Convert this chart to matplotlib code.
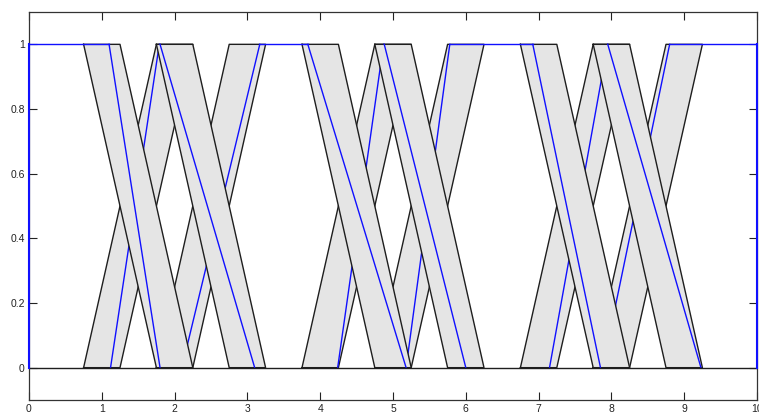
import numpy as np
import matplotlib.pyplot as plt

plt.rcParams['font.family'] = ['Liberation Sans', 'DejaVu Sans']

# uncertainty windows: left x of each band where it leaves its starting level
rise_start = [0.75, 1.75, 3.75, 4.75, 6.75, 7.75]
fall_start = [0.75, 1.75, 3.75, 4.75, 6.75, 7.75]
window = 0.5     # width of the timing window
slew = 1.0       # time to go from one level to the other

# one sample trace per band: (x at start level, x at end level)
rise_trace = [(1.12, 1.79), (2.10, 3.17), (4.24, 4.87),
              (5.18, 5.78), (7.15, 7.95), (7.88, 8.80)]
fall_trace = [(1.10, 1.80), (1.80, 3.10), (3.83, 5.18),
              (4.88, 6.00), (6.92, 7.85), (7.95, 9.23)]

# stretches where the sample trace sits at the high level
high_x0 = [0.0, 3.16, 5.78, 8.80]
high_x1 = [1.10, 3.83, 6.92, 10.0]

xticks = np.arange(0, 11)
yticks = [0, 0.2, 0.4, 0.6, 0.8, 1]
ylabels = ['0', '0.2', '0.4', '0.6', '0.8', '1']

band_face = '#e5e5e5'
band_edge = '#1e1e1e'
trace_col = '#1010ff'

fig = plt.figure(figsize=(7.59, 4.15), dpi=100)
ax = fig.add_axes([29 / 759, 15 / 415, 728 / 759, 388 / 415])

# rising bands first, falling ones painted over them
for k, x0 in enumerate(rise_start):
    px = [x0, x0 + window, x0 + window + slew, x0 + slew]
    py = [0, 0, 1, 1]
    ax.fill(px, py, facecolor=band_face, edgecolor='none', zorder=1)
    ax.plot(px + [px[0]], py + [py[0]], color=band_edge, lw=1.0, zorder=2)
    a, b = rise_trace[k]
    ax.plot([a, b], [0, 1], color=trace_col, lw=1.0, zorder=3)

for k, x0 in enumerate(fall_start):
    px = [x0, x0 + window, x0 + window + slew, x0 + slew]
    py = [1, 1, 0, 0]
    ax.fill(px, py, facecolor=band_face, edgecolor='none', zorder=4)
    ax.plot(px + [px[0]], py + [py[0]], color=band_edge, lw=1.0, zorder=5)
    a, b = fall_trace[k]
    ax.plot([a, b], [1, 0], color=trace_col, lw=1.0, zorder=6)

for a, b in zip(high_x0, high_x1):
    ax.plot([a, b], [1, 1], color=trace_col, lw=1.0, zorder=7)
ax.plot([0, 10], [0, 0], color=band_edge, lw=1.0, zorder=7)
ax.plot([0, 0], [0, 1], color=trace_col, lw=1.5, zorder=8, clip_on=False)
ax.plot([10, 10], [0, 1], color=trace_col, lw=1.5, zorder=8, clip_on=False)

ax.set_xlim(0, 10)
ax.set_ylim(-0.1, 1.1)
ax.set_xticks(xticks)
ax.set_yticks(yticks)
ax.set_yticklabels(ylabels)
ax.tick_params(direction='in', length=6, width=0.8, labelsize=7.5, pad=3,
               top=True, right=True, colors='#222222')
for sp in ax.spines.values():
    sp.set_color('#333333')
    sp.set_linewidth(0.9)

fig.savefig('out.png', dpi=100)
